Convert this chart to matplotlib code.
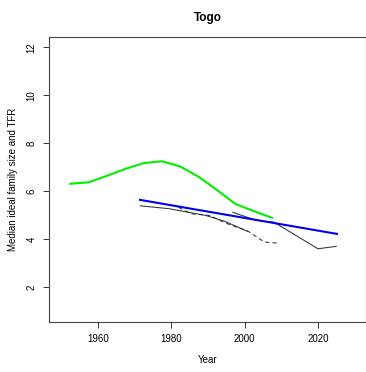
import matplotlib
matplotlib.use("Agg")
import matplotlib.pyplot as plt

plt.rcParams['font.family'] = ['Liberation Sans', 'DejaVu Sans']

# Total fertility rate (5-year periods)
tfr_years = [1952.5, 1957.5, 1962.5, 1967.5, 1972.5, 1977.5, 1982.5,
             1987.5, 1992.5, 1997.5, 2002.5, 2007.5]
tfr_values = [6.31, 6.37, 6.64, 6.93, 7.17, 7.25, 7.03, 6.60, 6.05, 5.47, 5.17, 4.89]

# Median ideal family size, by survey series
ideal_a_years = [1971.6, 1979.5, 1989.4, 1994.5, 2000.8]
ideal_a_values = [5.39, 5.27, 4.99, 4.75, 4.33]

ideal_b_years = [1996.8, 2003.3, 2008.0, 2020.0, 2025.0]
ideal_b_values = [5.12, 4.78, 4.71, 3.60, 3.70]

ideal_c_years = [1982.0, 1985.4, 1990.4, 1995.4, 2001.0, 2005.4, 2009.5]
ideal_c_values = [5.33, 5.06, 4.99, 4.64, 4.33, 3.88, 3.83]

# Fitted trend
trend_years = [1971.5, 2025.2]
trend_values = [5.64, 4.22]

x_ticks = [1960, 1980, 2000, 2020]
y_ticks = [2, 4, 6, 8, 10, 12]

fig = plt.figure(figsize=(3.66, 3.72), dpi=100)
ax = fig.add_axes([0.1347, 0.1352, 0.8663, 0.7661])

ax.plot(tfr_years, tfr_values, color='#00ee00', lw=1.5, solid_joinstyle='round')
ax.plot(ideal_a_years, ideal_a_values, color='#333333', lw=0.75)
ax.plot(ideal_b_years, ideal_b_values, color='#333333', lw=0.75)
ax.plot(ideal_c_years, ideal_c_values, color='#333333', lw=0.75, ls=(0, (4, 3)))
ax.plot(trend_years, trend_values, color='#0000ee', lw=1.5)

ax.set_xlim(1946.8, 2033.2)
ax.set_ylim(0.56, 12.44)
ax.set_xticks(x_ticks)
ax.set_yticks(y_ticks)
ax.set_xticklabels([str(t) for t in x_ticks], fontsize=7)
ax.set_yticklabels([str(t) for t in y_ticks], fontsize=7, rotation=90, va='center')
ax.tick_params(direction='out', length=4, width=0.7, color='#333333', pad=5)

for s in ax.spines.values():
    s.set_linewidth(0.8)
    s.set_color('#444444')

ax.set_xlabel('Year', fontsize=7, labelpad=8)
ax.set_ylabel('Median ideal family size and TFR', fontsize=7, labelpad=6)
ax.set_title('Togo', fontsize=8.5, fontweight='bold', pad=11)

fig.savefig('out.png', dpi=100)
